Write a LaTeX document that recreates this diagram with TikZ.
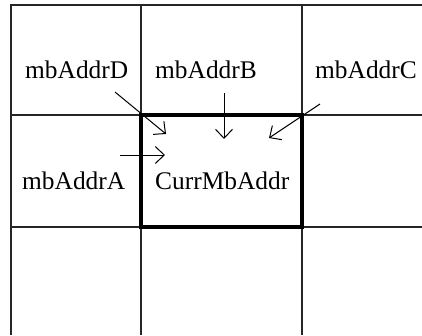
\documentclass[tikz,border=0pt]{standalone}
\usepackage{fontspec}
\setmainfont{Liberation Serif}
\usetikzlibrary{arrows.meta}
\begin{document}
\begin{tikzpicture}[x=1pt,y=-1pt,
  grid/.style={line width=1.2pt, draw=black!85},
  cur/.style={line width=4.5pt, line cap=rect},
  lbl/.style={inner sep=0pt, anchor=base west, font=\fontsize{25.4pt}{30pt}\selectfont},
  arr/.style={line width=1pt, -{Straight Barb[length=9pt,width=17pt,line width=1pt]}}]
\useasboundingbox (0,0) rectangle (422,335);
% grid
\draw[grid] (11,335) -- (11,5) -- (422,5);
\draw[grid] (141,5) -- (141,335);
\draw[grid] (302,5) -- (302,335);
\draw[grid] (11,115) -- (422,115);
\draw[grid] (11,227) -- (422,227);
% current macroblock
\draw[cur] (141,115) rectangle (302,227);
% labels
\node[lbl] (D) at (25,78) {mbAddrD};
\node[lbl] (B) at (155,78) {mbAddrB};
\node[lbl] (C) at (315,78) {mbAddrC};
\node[lbl] (A) at (22,189) {mbAddrA};
\node[lbl] (X) at (155,189) {CurrMbAddr};
% arrows
\coordinate (d0) at (115,92);  \coordinate (d1) at (166,134);
\coordinate (b0) at (224,93);  \coordinate (b1) at (224,139);
\coordinate (c0) at (320,104); \coordinate (c1) at (269,138);
\coordinate (a0) at (120,155); \coordinate (a1) at (165,155);
\draw[arr] (d0) -- (d1);
\draw[arr] (b0) -- (b1);
\draw[arr] (c0) -- (c1);
\draw[arr] (a0) -- (a1);
\end{tikzpicture}
\end{document}
